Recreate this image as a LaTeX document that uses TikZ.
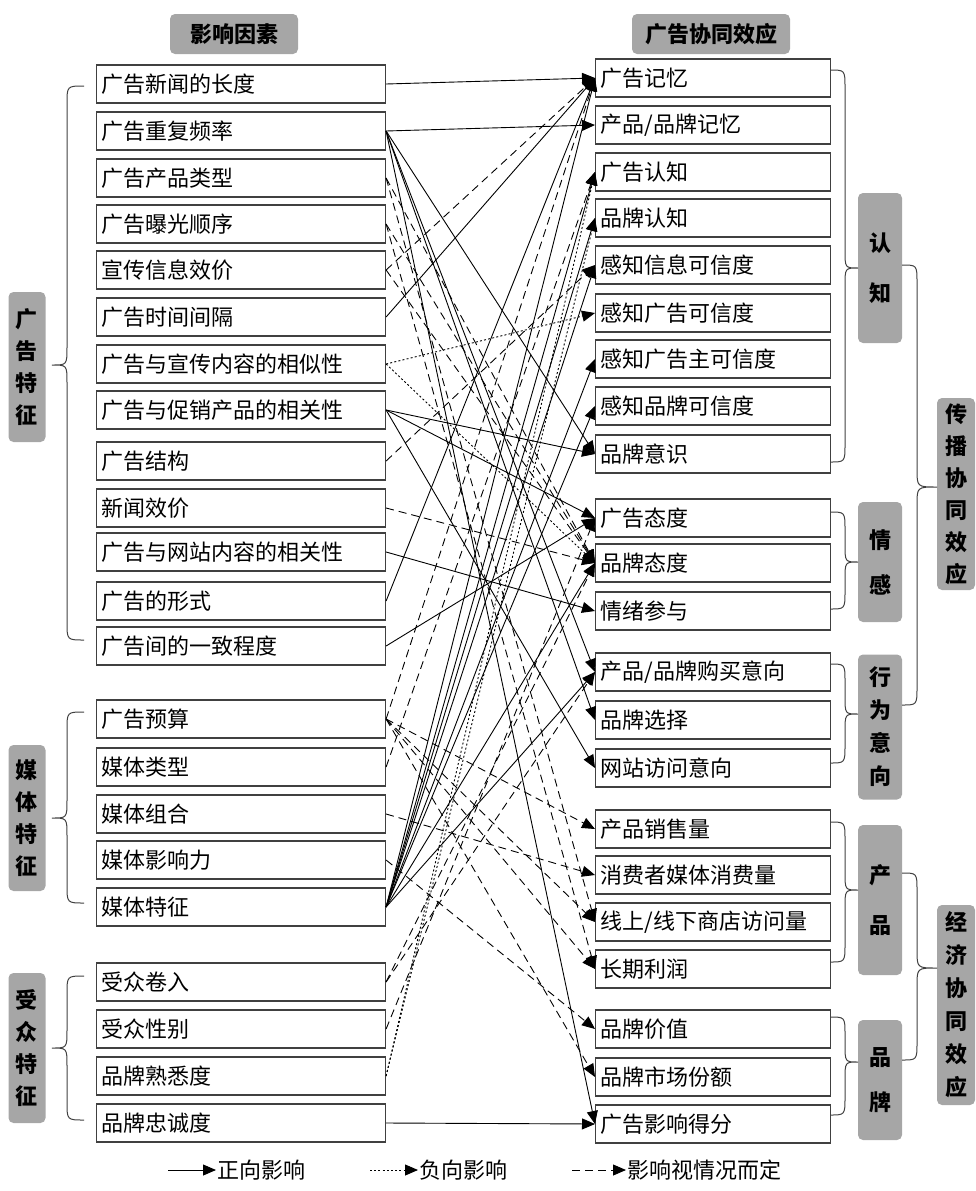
\documentclass[tikz,border=0pt]{standalone}
\usepackage{fontspec}
\usetikzlibrary{arrows.meta,calc}
\newfontfamily\cjkfont{Noto Sans CJK SC}
\definecolor{boxc}{HTML}{404040}
\definecolor{grayc}{HTML}{A6A6A6}
\begin{document}
\begin{tikzpicture}[x=1pt,y=-1pt,
  box/.style={draw=boxc, line width=1.1pt, fill=white, minimum height=38pt, inner xsep=5pt, inner ysep=0pt, anchor=west, font=\cjkfont\fontsize{22}{26}\selectfont},
  lbox/.style={box, text width=279pt, align=left},
  rbox/.style={box, text width=225pt, align=left},
  grp/.style={fill=grayc, rounded corners=5pt, inner sep=0pt, align=center, font=\cjkfont\bfseries\fontsize{22}{#1}\selectfont},
  grp/.default=40,
  posarr/.style={-{Triangle[length=13pt,width=11pt]}, line width=0.9pt},
  negarr/.style={posarr, dash pattern=on 2pt off 2.2pt},
  deparr/.style={posarr, dash pattern=on 8pt off 5pt},
  brc/.style={line width=1pt, draw=boxc}
]
\useasboundingbox (0,0) rectangle (975,1191);
% headers
\node[grp, minimum width=128pt, minimum height=40pt] (H1) at (234,34) {影响因素};
\node[grp, minimum width=158pt, minimum height=40pt] (H2) at (711,34) {广告协同效应};
% left boxes
\foreach \n/\y/\t in {1/84/广告新闻的长度, 2/131/广告重复频率, 3/178/广告产品类型, 4/224/广告曝光顺序, 5/270/宣传信息效价, 6/317/广告时间间隔, 7/364/广告与宣传内容的相似性, 8/410/广告与促销产品的相关性, 9/461/广告结构, 10/508/新闻效价, 11/552/广告与网站内容的相关性, 12/601/广告的形式, 13/646/广告间的一致程度, 14/719/广告预算, 15/767/媒体类型, 16/814/媒体组合, 17/860/媒体影响力, 18/907/媒体特征, 19/982/受众卷入, 20/1029/受众性别, 21/1076/品牌熟悉度, 22/1123/品牌忠诚度}
  \node[lbox] (L\n) at (96,\y) {\t};
% right boxes
\foreach \n/\y/\t in {1/78/{广告记忆}, 2/125/{产品/品牌记忆}, 3/172/{广告认知}, 4/218/{品牌认知}, 5/265/{感知信息可信度}, 6/313/{感知广告可信度}, 7/359/{感知广告主可信度}, 8/406/{感知品牌可信度}, 9/454/{品牌意识}, 10/518/{广告态度}, 11/563/{品牌态度}, 12/611/{情绪参与}, 13/672/{产品/品牌购买意向}, 14/720/{品牌选择}, 15/768/{网站访问意向}, 16/829/{产品销售量}, 17/875/{消费者媒体消费量}, 18/922/{线上/线下商店访问量}, 19/969/{长期利润}, 20/1029/{品牌价值}, 21/1077/{品牌市场份额}, 22/1124/{广告影响得分}}
  \node[rbox] (R\n) at (595,\y) {\t};
% group boxes
\node[grp=32, minimum width=37pt, minimum height=150pt] (G1) at (27,367) {广\\告\\特\\征};
\node[grp=32, minimum width=37pt, minimum height=146pt] (G2) at (27,818) {媒\\体\\特\\征};
\node[grp=32, minimum width=37pt, minimum height=150pt] (G3) at (27,1048) {受\\众\\特\\征};
\node[grp=50, minimum width=44pt, minimum height=150pt] (C1) at (880,268) {认\\知};
\node[grp=45, minimum width=44pt, minimum height=120pt] (C2) at (880,562) {情\\感};
\node[grp=33, minimum width=44pt, minimum height=145pt] (C3) at (880,727) {行\\为\\意\\向};
\node[grp=50, minimum width=44pt, minimum height=150pt] (C4) at (880,900) {产\\品};
\node[grp=45, minimum width=44pt, minimum height=120pt] (C5) at (880,1080) {品\\牌};
\node[grp=32, minimum width=38pt, minimum height=192pt] (C6) at (956,494) {传\\播\\协\\同\\效\\应};
\node[grp=33, minimum width=38pt, minimum height=200pt] (C7) at (956,1005) {经\\济\\协\\同\\效\\应};
% braces
\newcommand\brL[6]{\draw[brc] (#1,#4) .. controls (#2,#4) .. (#2,{#4+18}) -- (#2,{#5-18}) .. controls (#2,#5) .. (#3,#5) .. controls (#2,#5) .. (#2,{#5+18}) -- (#2,{#6-18}) .. controls (#2,#6) .. (#1,#6);}
\brL{84}{67}{52}{86}{365}{640}
\brL{84}{67}{52}{712}{818}{903}
\brL{84}{67}{52}{976}{1048}{1120}
\brL{830}{845}{858}{70}{268}{462}
\brL{830}{845}{858}{512}{562}{609}
\brL{830}{845}{858}{664}{714}{763}
\brL{830}{845}{858}{822}{890}{962}
\brL{830}{845}{858}{1017}{1062}{1115}
\brL{902}{917}{937}{265}{487}{705}
\brL{902}{917}{937}{873}{968}{1060}
% positive
\foreach \a/\b in {1/1, 2/2, 2/9, 2/13, 2/14, 2/22, 6/1, 8/9, 8/10, 8/15, 11/12, 12/1, 13/10, 18/1, 18/3, 18/4, 18/5, 18/7, 18/8, 18/11, 18/13, 22/22}
  \draw[posarr] (L\a.east) -- (R\b.west);
% negative
\foreach \a/\b in {7/6, 7/11, 21/3, 21/4}
  \draw[negarr] (L\a.east) -- (R\b.west);
% depends
\foreach \a/\b in {3/11, 3/18, 4/11, 4/19, 5/1, 5/11, 9/5, 10/11, 14/1, 14/16, 14/18, 14/19, 14/21, 15/3, 16/17, 17/20, 19/11, 19/13, 20/10}
  \draw[deparr] (L\a.east) -- (R\b.west);
% legend
\coordinate (a1) at (168,1170); \coordinate (b1) at (216,1170);
\coordinate (a2) at (370,1170); \coordinate (b2) at (418,1170);
\coordinate (a3) at (572,1170); \coordinate (b3) at (626,1170);
\draw[posarr] (a1) -- (b1) node[right=0pt, font=\cjkfont\fontsize{22}{26}\selectfont, inner sep=1pt] (t1) {正向影响};
\draw[negarr] (a2) -- (b2) node[right=0pt, font=\cjkfont\fontsize{22}{26}\selectfont, inner sep=1pt] (t2) {负向影响};
\draw[deparr] (a3) -- (b3) node[right=0pt, font=\cjkfont\fontsize{22}{26}\selectfont, inner sep=1pt] (t3) {影响视情况而定};
\end{tikzpicture}
\end{document}
